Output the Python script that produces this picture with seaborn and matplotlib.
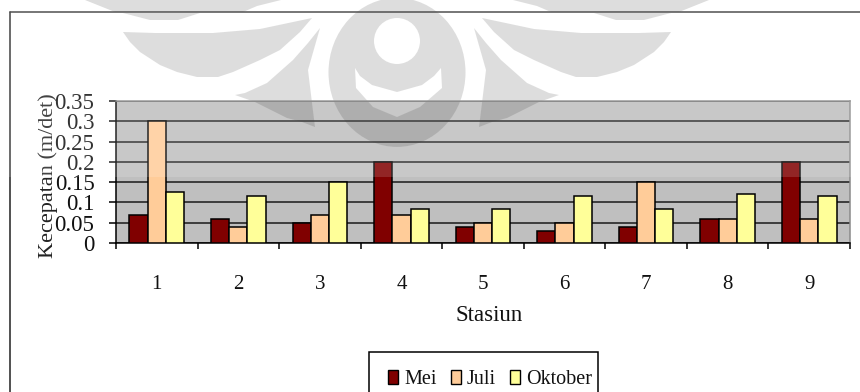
import numpy as np
import pandas as pd
import seaborn as sns
import matplotlib
matplotlib.use("Agg")
import matplotlib.pyplot as plt
from matplotlib.patches import Ellipse, Polygon, Rectangle, Patch

stasiun = ["1", "2", "3", "4", "5", "6", "7", "8", "9"]
mei = [0.07, 0.06, 0.05, 0.2, 0.04, 0.03, 0.04, 0.06, 0.2]
juli = [0.3, 0.04, 0.07, 0.07, 0.05, 0.05, 0.15, 0.06, 0.06]
oktober = [0.125, 0.115, 0.15, 0.085, 0.085, 0.115, 0.085, 0.12, 0.115]
y_ticks = [0, 0.05, 0.1, 0.15, 0.2, 0.25, 0.3, 0.35]
y_labels = ["0", "0.05", "0.1", "0.15", "0.2", "0.25", "0.3", "0.35"]
colors = {"Mei": "#800000", "Juli": "#FFCC99", "Oktober": "#FFFF99"}

df = pd.DataFrame({"Stasiun": stasiun, "Mei": mei, "Juli": juli, "Oktober": oktober})
long = df.melt(id_vars="Stasiun", var_name="Bulan", value_name="Kecepatan")

sns.set_theme(style="white")
plt.rcParams["font.family"] = ["Liberation Serif", "DejaVu Serif"]
W, H = 860, 392
fig = plt.figure(figsize=(W / 100, H / 100), dpi=100, facecolor="white")


def px(x, y):
    return (x / W, 1 - y / H)


def add(patch_cls, *a, **k):
    k.setdefault("transform", fig.transFigure)
    p = patch_cls(*a, **k)
    fig.add_artist(p)
    return p


def poly(points, color):
    add(Polygon, [px(*q) for q in points], closed=True, fc=color, ec="none", zorder=-5)


def mirrored(points, color):
    poly(points, color)
    poly([(794 - x, y) for x, y in points], color)


def ell(cx, cy, w, h, color):
    add(Ellipse, px(cx, cy), w / W, h / H, fc=color, ec="none", zorder=-5)


# faint emblem behind the chart
G = "#d8d8d8"
mirrored([(85, 0), (281, 0), (257, 6), (243, 12), (115, 12)], G)
mirrored([(123, 13), (200, 13), (178, 20), (150, 20)], G)
mirrored([(123, 32), (155, 33), (213, 33), (260, 29), (312, 18), (300, 32), (280, 50), (260, 60),
          (233, 72), (218, 77), (197, 77), (177, 72), (160, 65), (140, 52), (130, 42)], G)
mirrored([(235, 95), (245, 93), (267, 83), (293, 60), (308, 43), (320, 28), (308, 70), (312, 103),
          (315, 127), (302, 122), (287, 118), (255, 102)], G)
ell(397, 72.4, 137, 149, G)
ell(397, 41, 46, 46, "white")
poly([(355, 68), (360, 76), (372, 85), (397, 92), (422, 85), (434, 76), (441, 68), (442, 88),
      (420, 107), (397, 117), (373, 107), (356, 88)], "white")

ax = fig.add_axes([116 / W, 1 - 243 / H, (850 - 116) / W, (243 - 101) / H])
ax.set_facecolor((0, 0, 0, 0.25))
sns.barplot(data=long, x="Stasiun", y="Kecepatan", hue="Bulan", order=stasiun,
            palette=colors, width=0.67, gap=0, edgecolor="black", linewidth=1.1,
            saturation=1, dodge=True, legend=False, ax=ax, zorder=3)
ax.set_xlim(-0.5, 8.5)
ax.set_ylim(0, 0.35)
ax.set_yticks(y_ticks, y_labels)
ax.yaxis.grid(True, color="#1a1a1a", linewidth=1.1)
ax.xaxis.grid(False)
ax.set_axisbelow(True)
ax.tick_params(axis="y", left=True, length=5, width=1.1, color="black", pad=10.5,
               labelsize=16.5, labelcolor="#111111")
ax.set_xticks(np.arange(-0.5, 9), minor=True)
ax.tick_params(axis="x", which="minor", bottom=True, length=4.5, width=1.1, color="black")
ax.tick_params(axis="x", which="major", bottom=False, pad=17, labelsize=15, labelcolor="#111111")
ax.set_xlabel("Stasiun", fontsize=16.5, color="#111111", labelpad=8, x=0.508)
ax.set_ylabel("")
for side, s in ax.spines.items():
    s.set_visible(True)
    s.set_color("black" if side in ("left", "bottom") else "#8a8a8a")
    s.set_linewidth(1.1)
fig.text(*px(48, 176), "Kecepatan (m/det)", rotation=90, ha="center", va="center",
         fontsize=16, color="#222222")

# outer chart frame
fig.add_artist(plt.Line2D([10 / W, 10 / W], [0, 1 - 12 / H], color="#222222", lw=1.1))
fig.add_artist(plt.Line2D([10 / W, 1], [1 - 12 / H, 1 - 12 / H], color="#333333", lw=1.1))

# legend box runs off the bottom edge
add(Rectangle, px(369, 400), 229 / W, 48 / H, fc="white", ec="black", lw=1.1, zorder=4)
handles = [Patch(facecolor=colors[k], edgecolor="black", linewidth=1.0, label=k) for k in colors]
leg = fig.legend(handles=handles, ncol=3, loc="lower left", bbox_to_anchor=(373 / W, -12 / H),
                 bbox_transform=fig.transFigure, frameon=False,
                 fontsize=14.5, handlelength=0.5, handleheight=0.7, handletextpad=0.3,
                 columnspacing=0.7, borderpad=0.75, borderaxespad=0, labelcolor="#111111")
leg.set_zorder(5)

# the emblem image pales everything above this line
add(Rectangle, px(0, 177), 1, 177 / H, fc="white", ec="none", alpha=0.15, zorder=10)

fig.savefig("out.png", dpi=100)
